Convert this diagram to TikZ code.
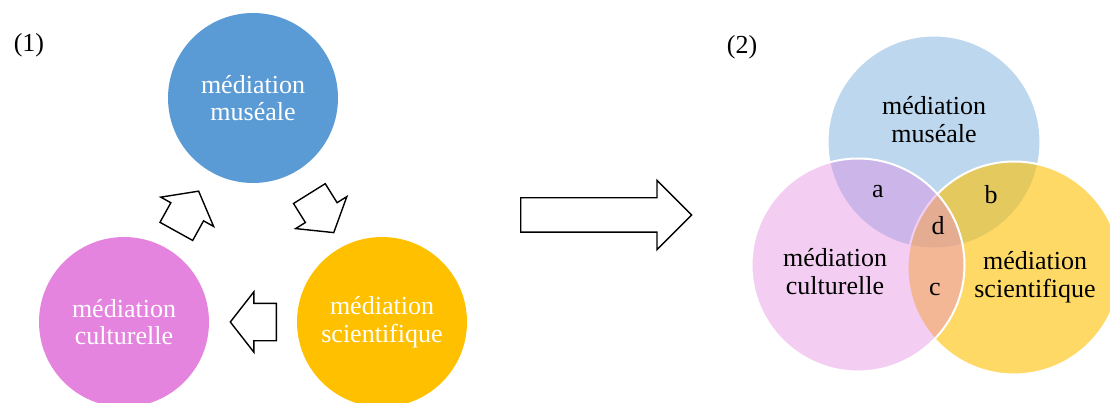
\documentclass[tikz,border=0pt]{standalone}
\usepackage{fontspec}
\setmainfont{Liberation Serif}
\usetikzlibrary{shapes.arrows}
\definecolor{musblue}{HTML}{5B9BD5}
\definecolor{culpink}{HTML}{E484DF}
\definecolor{sciyellow}{HTML}{FFC000}
\begin{document}
\begin{tikzpicture}[x=1pt,y=-1pt,
  bubble/.style={circle,minimum size=170pt,inner sep=0pt,text=white,align=center,font=\fontsize{26}{27.5}\selectfont},
  venn/.style={circle,minimum size=213pt,inner sep=0pt,draw=white,line width=2pt},
  lbl/.style={align=center,font=\fontsize{26}{28}\selectfont},
  smallarrow/.style={single arrow,draw,line width=1.4pt,fill=white,anchor=tail,minimum height=46pt,inner xsep=0pt,inner ysep=18pt,single arrow head extend=11.5pt,single arrow tip angle=104}]
\useasboundingbox (0,0) rectangle (1110,403);
\clip (0,0) rectangle (1110,403);
% (1) cycle
\node[lbl] (one) at (29,45) {(1)};
\node[bubble,fill=musblue] (mus) at (253,98) {médiation\\muséale};
\node[bubble,fill=culpink] (cul) at (124,322) {médiation\\culturelle};
\node[bubble,fill=sciyellow] (sci) at (382,322) {médiation\\scientifique};
\node[smallarrow,rotate=61] (cm) at (176,232) {};
\node[smallarrow,rotate=-58] (ms) at (309,193) {};
\node[smallarrow,rotate=180] (sc) at (277,322) {};
% big arrow
\node[single arrow,draw,line width=1.4pt,fill=white,anchor=tail,minimum height=171pt,inner xsep=0pt,inner ysep=16.5pt,single arrow head extend=17.5pt,single arrow tip angle=90] (go) at (520,215) {};
% (2) venn
\node[lbl] (two) at (742,47) {(2)};
\node[venn,fill=musblue,fill opacity=0.4] (vmus) at (934,142) {};
\node[venn,fill=sciyellow,fill opacity=0.6] (vsci) at (1014,268) {};
\node[venn,fill=culpink,fill opacity=0.4] (vcul) at (858,265) {};
\node[lbl] (tmus) at (934,120) {médiation\\muséale};
\node[lbl] (tcul) at (835,272) {médiation\\culturelle};
\node[lbl] (tsci) at (1035,277.5) {médiation\\scientifique};
\node[lbl] (ra) at (878,192) {a};
\node[lbl] (rb) at (991,195) {b};
\node[lbl] (rd) at (938,226) {d};
\node[lbl] (rc) at (935,290) {c};
\end{tikzpicture}
\end{document}
